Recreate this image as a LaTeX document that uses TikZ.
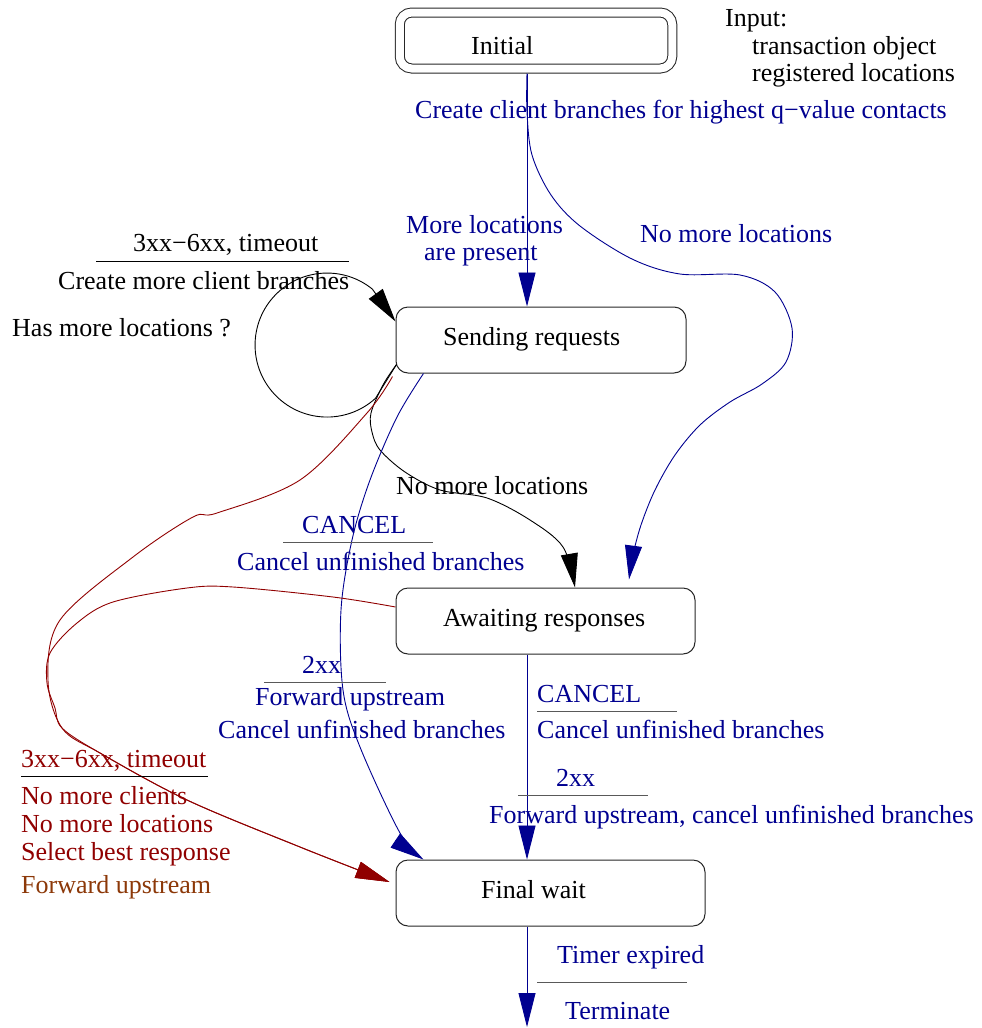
\documentclass[tikz,border=0pt]{standalone}
\usepackage{fontspec}
\setmainfont{Liberation Serif}
\usetikzlibrary{arrows.meta,calc}
\definecolor{fblue}{RGB}{0,0,144}
\definecolor{fred}{RGB}{144,0,0}
\definecolor{fbrown}{RGB}{140,56,8}
\begin{document}
\begin{tikzpicture}[x=1pt,y=-1pt,
  every node/.style={font=\fontsize{26}{30}\selectfont},
  state/.style={draw=black!85,line width=1pt,rounded corners=12pt,
    minimum height=66pt,inner sep=0pt},
  lbl/.style={anchor=base west,inner sep=0pt},
  bluetext/.style={lbl,text=fblue},
  redtext/.style={lbl,text=fred},
  arr/.style={-{Triangle[length=34pt,width=17pt]}},
  fwd/.style={draw=fblue,line width=0.9pt},
  blk/.style={draw=black,line width=0.9pt},
  rd/.style={draw=fred,line width=0.9pt},
  uline/.style={draw=black!65,line width=1pt},
  ulineblk/.style={draw=black,line width=1pt}]
\useasboundingbox (0,0) rectangle (982,1028);

% states
\node[state,double,double distance=8pt,minimum width=272.5pt,minimum height=56pt]
  (init) at (536,40.5) {};
\node[state,minimum width=290pt] (send) at (541,340) {};
\node[state,minimum width=299pt] (await) at (545.5,621) {};
\node[state,minimum width=309pt] (final) at (550.5,893) {};

\node[lbl] (tinit) at (471,54) {Initial};
\node[lbl] (tsend) at (443,345) {Sending requests};
\node[lbl] (tawait) at (443,626) {Awaiting responses};
\node[lbl] (tfinal) at (481,898) {Final wait};

% input description
\node[lbl] (in1) at (725,26) {Input:};
\node[lbl] (in2) at (752,54) {transaction object};
\node[lbl] (in3) at (752,81) {registered locations};

% helper points
\coordinate (axis) at (527,0);
\coordinate (ia) at ($(init.south -| axis)+(0,4.5)$);
\coordinate (sa) at ($(send.south west)+(1,-9)$);
\coordinate (sb) at ($(send.south west)+(28,0)$);
\coordinate (sr) at ($(send.south west)+(-3,3)$);
\coordinate (lt) at ($(send.north west)+(0,15)$);
\coordinate (ta) at ($(await.north)+(29.5,0)$);
\coordinate (tb) at ($(await.north)+(83.5,-8)$);
\coordinate (ar) at ($(await.west)+(0,-14)$);
\coordinate (fb) at ($(final.north west)+(28,0)$);
\coordinate (fr) at ($(final.west)+(-6,-11)$);
\coordinate (endpt) at (527,1027);

% Initial -> Sending requests
\draw[fwd,arr] (ia) -- (send.north -| axis);
\node[bluetext] (l1) at (415,118) {Create client branches for highest q−value contacts};
\node[bluetext] (l2a) at (406,233) {More locations};
\node[bluetext] (l2b) at (424,260) {are present};

% Initial -> Awaiting responses
\draw[fwd,arr] plot[smooth,tension=0.55] coordinates {(ia) (527,112) (532,155) (551,195)
  (580,226) (632,259) (680,274) (740,275) (775,292) (792,328) (786,362) (762,384)
  (730,402) (700,425) (675,455) (655,490) (641,525) (633,555) (tb)};
\node[bluetext] (l3) at (640,242) {No more locations};

% Sending requests -> Sending requests
\draw[blk,arr] (sa) -- (375.5,398.3) arc[start angle=47.7,end angle=309,radius=72] -- (lt);
\node[lbl] (l4a) at (133,251) {3xx−6xx, timeout};
\draw[ulineblk] (96,261) -- (349,261);
\node[lbl] (l4b) at (58,289) {Create more client branches};
\node[lbl] (l4c) at (12,336) {Has more locations ?};

% Sending requests -> Awaiting responses
\draw[blk,arr] plot[smooth,tension=0.55] coordinates {(sa) (383,385) (371,413) (372,432)
  (380,450) (405,472) (440,490) (487,498) (530,520) (563,547) (ta)};
\node[lbl] (l5) at (396,494) {No more locations};

% Sending requests -> Final wait
\draw[fwd,arr] plot[smooth,tension=0.55] coordinates {(sb) (397,417) (370,480) (352,540)
  (341,610) (343,690) (360,747) (400,833) (fb)};
\node[bluetext] (l6a) at (302,533) {CANCEL};
\draw[uline] (283,542) -- (433,542);
\node[bluetext] (l6b) at (237,570) {Cancel unfinished branches};
\node[bluetext] (l7a) at (302,673) {2xx};
\draw[uline] (264,682) -- (386,682);
\node[bluetext] (l7b) at (255,705) {Forward upstream};
\node[bluetext] (l7c) at (218,738) {Cancel unfinished branches};

% failures -> Final wait
\draw[rd,arr] plot[smooth,tension=0.55] coordinates {(sr) (367,413) (300,480) (217,513)
  (193,517) (133,557) (60,620) (48,680) (62,728) (100,753) (187,800) (300,847) (fr)};
\draw[rd,arr] plot[smooth,tension=0.55] coordinates {(ar) (333,597) (233,587) (187,588)
  (113,602) (77,623) (50,653) (47,683) (55,708) (62,728) (100,753) (187,800) (300,847) (fr)};
\node[redtext] (l8a) at (21,767) {3xx−6xx, timeout};
\draw[ulineblk] (21,776) -- (208,776);
\node[redtext] (l8b) at (21,804) {No more clients};
\node[redtext] (l8c) at (21,832) {No more locations};
\node[redtext] (l8d) at (21,860) {Select best response};
\node[lbl,text=fbrown] (l8e) at (21,893) {Forward upstream};

% Awaiting responses -> Final wait
\draw[fwd,arr] (await.south -| axis) -- (final.north -| axis);
\node[bluetext] (l9a) at (537,702) {CANCEL};
\draw[uline] (537,711) -- (677,711);
\node[bluetext] (l9b) at (537,738) {Cancel unfinished branches};
\node[bluetext] (l10a) at (556,786) {2xx};
\draw[uline] (518,795) -- (648,795);
\node[bluetext] (l10b) at (489,823) {Forward upstream, cancel unfinished branches};

% Final wait -> end
\draw[fwd,arr] (final.south -| axis) -- (endpt);
\node[bluetext] (l11a) at (557,963) {Timer expired};
\draw[uline] (537,982) -- (687,982);
\node[bluetext] (l11b) at (565,1019) {Terminate};
\end{tikzpicture}
\end{document}
